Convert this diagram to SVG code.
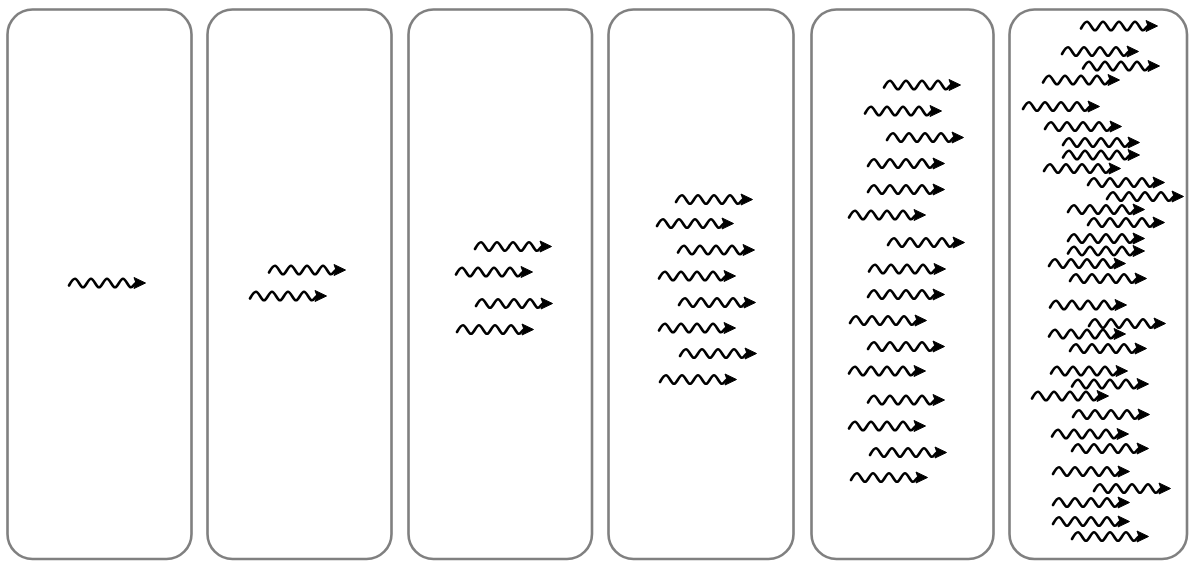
<svg xmlns="http://www.w3.org/2000/svg" xmlns:xlink="http://www.w3.org/1999/xlink" width="1190" height="562" viewBox="0 0 1190 562">
<style>
.panel{fill:#ffffff;stroke:#808080;stroke-width:2.6}
.wv{fill:none;stroke:#000;stroke-width:2.6;stroke-linecap:round}
.hd{fill:#000;stroke:#000;stroke-width:1;stroke-linejoin:round}
</style>
<defs>
<g id="w">
<path class="wv" d="M0,2.5 C2,-1 3.5,-4.3 6,-4.3 C8.9,-4.3 11.1,4.3 14,4.3 C16.9,4.3 19.1,-4.3 22,-4.3 C24.9,-4.3 27.1,4.3 30,4.3 C32.9,4.3 35.1,-4.3 38,-4.3 C40.9,-4.3 43.1,4.3 46,4.3 C48.9,4.3 51.1,-4.3 54,-4.3 C56.9,-4.3 59.1,4.3 62,4.3 C64,4.3 65,1 67,0"/>
<polygon class="hd" points="65,-5.5 76.5,0 65,5.5 67,0"/>
</g>
</defs>
<rect width="1190" height="562" fill="#ffffff"/>
<g id="panel1">
<rect class="panel" x="7.5" y="9.5" width="184" height="549.5" rx="25"/>
<use href="#w" x="69" y="283"/>
</g>
<g id="panel2">
<rect class="panel" x="207.5" y="9.5" width="184" height="549.5" rx="25"/>
<use href="#w" x="269" y="270"/>
<use href="#w" x="250" y="296"/>
</g>
<g id="panel3">
<rect class="panel" x="408.5" y="9.5" width="183.5" height="549.5" rx="25"/>
<use href="#w" x="475" y="246.5"/>
<use href="#w" x="456" y="272"/>
<use href="#w" x="476" y="303.5"/>
<use href="#w" x="457" y="329.5"/>
</g>
<g id="panel4">
<rect class="panel" x="608.5" y="9.5" width="185" height="549.5" rx="25"/>
<use href="#w" x="676" y="199.5"/>
<use href="#w" x="657" y="223.5"/>
<use href="#w" x="678" y="250"/>
<use href="#w" x="659" y="276"/>
<use href="#w" x="679" y="302.5"/>
<use href="#w" x="659" y="328"/>
<use href="#w" x="680" y="353.5"/>
<use href="#w" x="660" y="379.5"/>
</g>
<g id="panel5">
<rect class="panel" x="811.5" y="9.5" width="182" height="549.5" rx="25"/>
<use href="#w" x="884" y="85"/>
<use href="#w" x="865" y="111"/>
<use href="#w" x="887" y="137.5"/>
<use href="#w" x="868" y="163.5"/>
<use href="#w" x="868" y="189.5"/>
<use href="#w" x="849" y="215"/>
<use href="#w" x="888" y="242.5"/>
<use href="#w" x="869" y="269"/>
<use href="#w" x="868" y="294.5"/>
<use href="#w" x="850" y="320.5"/>
<use href="#w" x="868" y="346.5"/>
<use href="#w" x="849" y="371"/>
<use href="#w" x="868" y="400"/>
<use href="#w" x="849" y="426"/>
<use href="#w" x="870" y="452.5"/>
<use href="#w" x="851" y="477.5"/>
</g>
<g id="panel6">
<rect class="panel" x="1009.5" y="9.5" width="177.5" height="549.5" rx="25"/>
<use href="#w" x="1081" y="26"/>
<use href="#w" x="1062" y="51.5"/>
<use href="#w" x="1083" y="66"/>
<use href="#w" x="1043" y="80"/>
<use href="#w" x="1023" y="106.5"/>
<use href="#w" x="1045" y="126.5"/>
<use href="#w" x="1063" y="142.5"/>
<use href="#w" x="1063" y="155"/>
<use href="#w" x="1044" y="168.5"/>
<use href="#w" x="1088" y="182.5"/>
<use href="#w" x="1107" y="196.5"/>
<use href="#w" x="1068" y="209.5"/>
<use href="#w" x="1088" y="222.5"/>
<use href="#w" x="1068" y="238.5"/>
<use href="#w" x="1068" y="251"/>
<use href="#w" x="1049" y="263.5"/>
<use href="#w" x="1070" y="278.5"/>
<use href="#w" x="1050" y="305"/>
<use href="#w" x="1089" y="323.5"/>
<use href="#w" x="1049" y="334"/>
<use href="#w" x="1070" y="348.5"/>
<use href="#w" x="1051" y="371"/>
<use href="#w" x="1072" y="384"/>
<use href="#w" x="1032" y="396"/>
<use href="#w" x="1073" y="414.5"/>
<use href="#w" x="1052" y="434"/>
<use href="#w" x="1072" y="448.5"/>
<use href="#w" x="1053" y="471.5"/>
<use href="#w" x="1094" y="488.5"/>
<use href="#w" x="1053" y="502.5"/>
<use href="#w" x="1053" y="521.5"/>
<use href="#w" x="1072" y="536.5"/>
</g>
</svg>
